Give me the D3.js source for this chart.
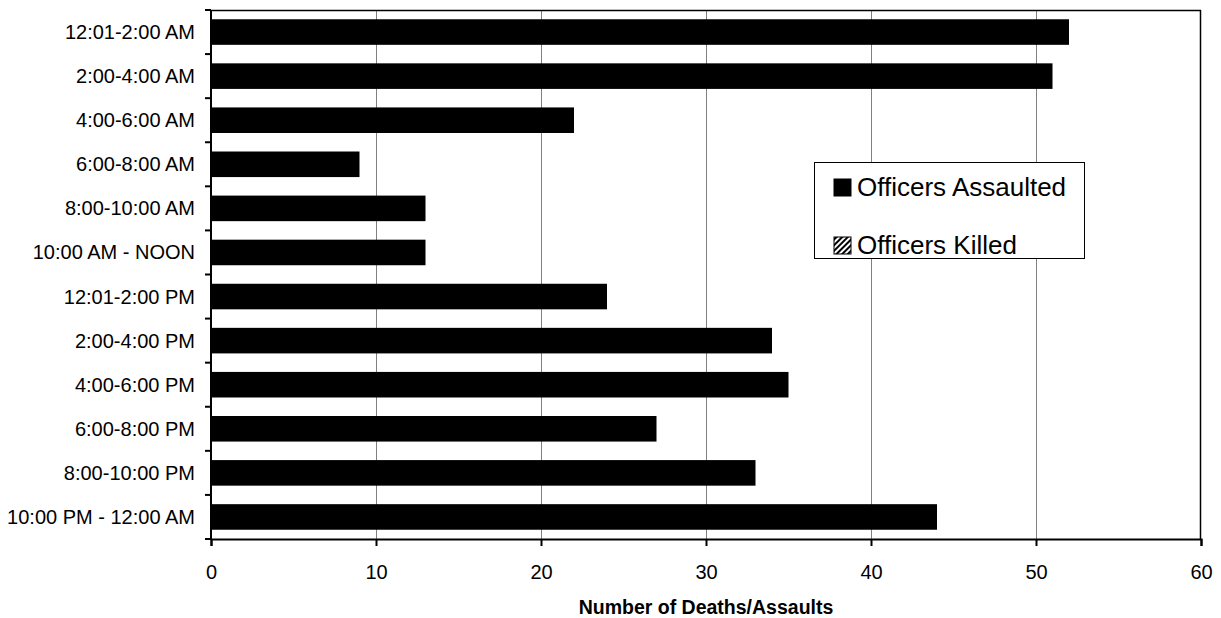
<!DOCTYPE html>
<html>
<head>
<meta charset="utf-8">
<script src="https://cdn.jsdelivr.net/npm/d3@7"></script>
<style>
  html, body { margin: 0; padding: 0; background: #fff; }
  svg { display: block; }
  text { font-family: "Liberation Sans", Arial, sans-serif; fill: #000; }
</style>
</head>
<body>
<svg id="chart" width="1221" height="618"></svg>
<script>
const categories = [
  "12:01-2:00 AM", "2:00-4:00 AM", "4:00-6:00 AM", "6:00-8:00 AM",
  "8:00-10:00 AM", "10:00 AM - NOON", "12:01-2:00 PM", "2:00-4:00 PM",
  "4:00-6:00 PM", "6:00-8:00 PM", "8:00-10:00 PM", "10:00 PM - 12:00 AM"
];
const officersAssaulted = [52, 51, 22, 9, 13, 13, 24, 34, 35, 27, 33, 44];
const officersKilled = [0, 0, 0, 0, 0, 0, 0, 0, 0, 0, 0, 0];
const xTicks = [0, 10, 20, 30, 40, 50, 60];
const seriesNames = ["Officers Assaulted", "Officers Killed"];
const xTitle = "Number of Deaths/Assaults";

const W = 1221, H = 618;
const margin = { top: 10, right: 20, bottom: 79, left: 211 };
const iw = W - margin.left - margin.right;
const ih = H - margin.top - margin.bottom;

const svg = d3.select("#chart");

const defs = svg.append("defs");
const pat = defs.append("pattern")
  .attr("id", "hatch").attr("patternUnits", "userSpaceOnUse")
  .attr("width", 4).attr("height", 4)
  .attr("patternTransform", "rotate(45)");
pat.append("rect").attr("width", 4).attr("height", 4).attr("fill", "#fff");
pat.append("rect").attr("width", 2).attr("height", 4).attr("fill", "#000");

const g = svg.append("g").attr("transform", `translate(${margin.left},${margin.top})`);

const x = d3.scaleLinear().domain([0, 60]).range([0, iw]);
const y = d3.scaleBand().domain(categories).range([0, ih])
  .paddingInner(0.42).paddingOuter(0.21);

// gridlines
g.append("g").selectAll("line")
  .data(xTicks.filter(t => t > 0 && t < 60))
  .join("line")
  .attr("x1", d => Math.round(x(d)) + 0.5).attr("x2", d => Math.round(x(d)) + 0.5)
  .attr("y1", 0).attr("y2", ih)
  .attr("stroke", "#808080").attr("stroke-width", 1);

// border top/right
g.append("line").attr("x1", 0).attr("x2", iw).attr("y1", 0.5).attr("y2", 0.5)
  .attr("stroke", "#000").attr("stroke-width", 1.5);
g.append("line").attr("x1", iw - 0.5).attr("x2", iw - 0.5).attr("y1", 0).attr("y2", ih)
  .attr("stroke", "#000").attr("stroke-width", 1.5);

// bars (stacked: assaulted then killed)
const rows = categories.map((c, i) => ({ c, a: officersAssaulted[i], k: officersKilled[i] }));
g.append("g").selectAll("rect").data(rows).join("rect")
  .attr("x", x(0)).attr("y", d => y(d.c))
  .attr("width", d => x(d.a) - x(0)).attr("height", y.bandwidth())
  .attr("fill", "#000");
g.append("g").selectAll("rect").data(rows.filter(d => d.k > 0)).join("rect")
  .attr("x", d => x(d.a)).attr("y", d => y(d.c))
  .attr("width", d => x(d.a + d.k) - x(d.a)).attr("height", y.bandwidth())
  .attr("fill", "url(#hatch)").attr("stroke", "#000");

// x axis
const xAxis = g.append("g").attr("transform", `translate(0,${ih})`)
  .call(d3.axisBottom(x).tickValues(xTicks).tickFormat(d3.format("d")).tickSize(7).tickPadding(19));
xAxis.select(".domain").attr("stroke", "#000").attr("stroke-width", 2);
xAxis.selectAll(".tick line").attr("stroke", "#000").attr("stroke-width", 2);
xAxis.selectAll(".tick text").attr("font-size", "20px")
  .attr("font-family", "'Liberation Sans', Arial, sans-serif").attr("fill", "#000");

// y axis: ticks at band boundaries
const step = y.step();
const boundaries = d3.range(categories.length + 1).map(i => i * step);
g.append("g").selectAll("line").data(boundaries).join("line")
  .attr("x1", -6).attr("x2", 0).attr("y1", d => d).attr("y2", d => d)
  .attr("stroke", "#000").attr("stroke-width", 2);
g.append("line").attr("x1", 0).attr("x2", 0).attr("y1", 0).attr("y2", ih + 1)
  .attr("stroke", "#000").attr("stroke-width", 2);
g.append("g").selectAll("text").data(categories).join("text")
  .attr("x", -16).attr("y", d => y(d) + y.bandwidth() / 2)
  .attr("dy", "0.35em").attr("text-anchor", "end")
  .attr("font-size", "20px").text(d => d);

// x title
svg.append("text").attr("x", margin.left + iw / 2).attr("y", 614)
  .attr("text-anchor", "middle").attr("font-weight", "bold")
  .attr("font-size", "19.5px").text(xTitle);

// legend
const lg = svg.append("g").attr("transform", "translate(814,162)");
lg.append("rect").attr("x", 0.5).attr("y", 0.5).attr("width", 270).attr("height", 96)
  .attr("fill", "#fff").attr("stroke", "#000").attr("stroke-width", 1);
const swatches = [{ fill: "#000" }, { fill: "url(#hatch)" }];
seriesNames.forEach((name, i) => {
  const yy = 17 + i * 58;
  lg.append("rect").attr("x", 20).attr("y", yy).attr("width", 17).attr("height", 17)
    .attr("fill", swatches[i].fill).attr("stroke", "#000").attr("stroke-width", 1);
  lg.append("text").attr("x", 43).attr("y", yy + 17).attr("font-size", "26px").text(name);
});
</script>
</body>
</html>
